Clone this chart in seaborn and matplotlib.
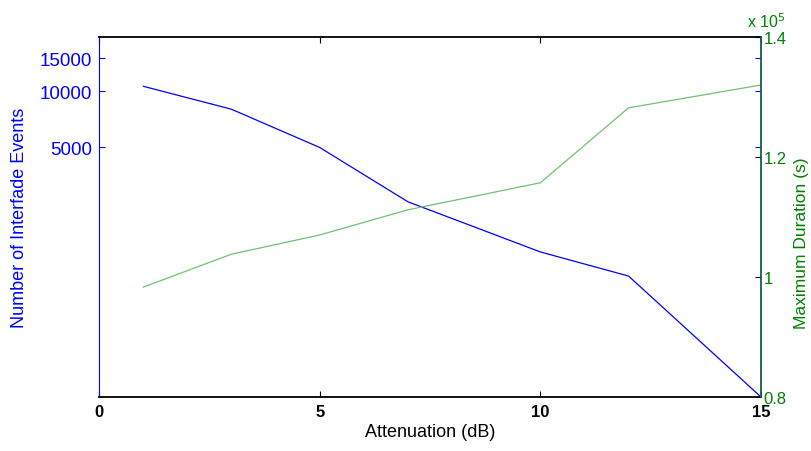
import matplotlib
matplotlib.use("Agg")
import matplotlib.pyplot as plt
import seaborn as sns
import pandas as pd
from matplotlib.ticker import FixedLocator, FuncFormatter, NullLocator

sns.set_style("white")
plt.rcParams["font.family"] = ["Liberation Sans", "DejaVu Sans"]

attenuation = [1, 3, 5, 7, 10, 12, 15]
interfade_events = [10630, 8010, 5000, 2560, 1380, 1025, 231]
max_duration = [98300, 103800, 107000, 111200, 115700, 128200, 132000]

df = pd.DataFrame({"att": attenuation, "events": interfade_events, "dur": max_duration})

fig = plt.figure(figsize=(8.12, 4.52), dpi=100)
ax = fig.add_axes([99/812, 1-398/452, 662/812, 360/452])
ax2 = ax.twinx()

sns.lineplot(data=df, x="att", y="events", ax=ax, color=(0, 0, 1), linewidth=0.9)
sns.lineplot(data=df, x="att", y="dur", ax=ax2, color=(0.45, 0.75, 0.45), linewidth=0.9)

ax.set_xlim(0, 15)
ax.set_yscale("log")
ax.set_ylim(231, 19500)
ax.yaxis.set_major_locator(FixedLocator([5000, 10000, 15000]))
ax.yaxis.set_minor_locator(NullLocator())
ax.yaxis.set_major_formatter(FuncFormatter(lambda v, p: f"{int(v)}"))
ax.set_xticks([0, 5, 10, 15])
ax.set_xticklabels(["0", "5", "10", "15"], fontweight="bold", fontsize=12)

ax2.set_ylim(80000, 140000)
ax2.set_yticks([80000, 100000, 120000, 140000])
ax2.yaxis.set_major_formatter(FuncFormatter(lambda v, p: f"{v/1e5:g}"))

ax.tick_params(axis="y", which="both", direction="in", length=4, colors="blue",
               labelsize=13.5, left=True, right=True, pad=5)
ax.tick_params(axis="x", direction="in", length=4, colors="black", top=True, bottom=True,
               pad=5)
ax2.tick_params(axis="y", direction="in", length=4, color="black", labelcolor=(0, 0.5, 0),
                labelsize=12, right=True, pad=2)

for sp in ["top", "bottom"]:
    ax.spines[sp].set_color("black")
    ax.spines[sp].set_linewidth(1.3)
ax.spines["left"].set_color("blue")
ax.spines["right"].set_visible(False)
ax2.spines["right"].set_color((0.1, 0.35, 0.3))
ax2.spines["right"].set_linewidth(1.3)
ax2.spines["left"].set_visible(False)
ax2.spines["top"].set_visible(False)
ax2.spines["bottom"].set_visible(False)

ax.set_xlabel("Attenuation (dB)", fontsize=13, color="black", labelpad=3)
ax.set_ylabel("Number of Interfade Events", fontsize=13, color="blue")
ax.yaxis.set_label_coords(-0.107, 0.5)
ax2.set_ylabel("Maximum Duration (s)", fontsize=12.5, color=(0, 0.5, 0))
ax2.yaxis.set_label_coords(1.05, 0.43)

fig.text(747/812, 1-22/452, r"x 10$^5$", fontsize=11.5, color=(0, 0.5, 0),
         va="center", ha="left")

fig.savefig("out.png", dpi=100)
